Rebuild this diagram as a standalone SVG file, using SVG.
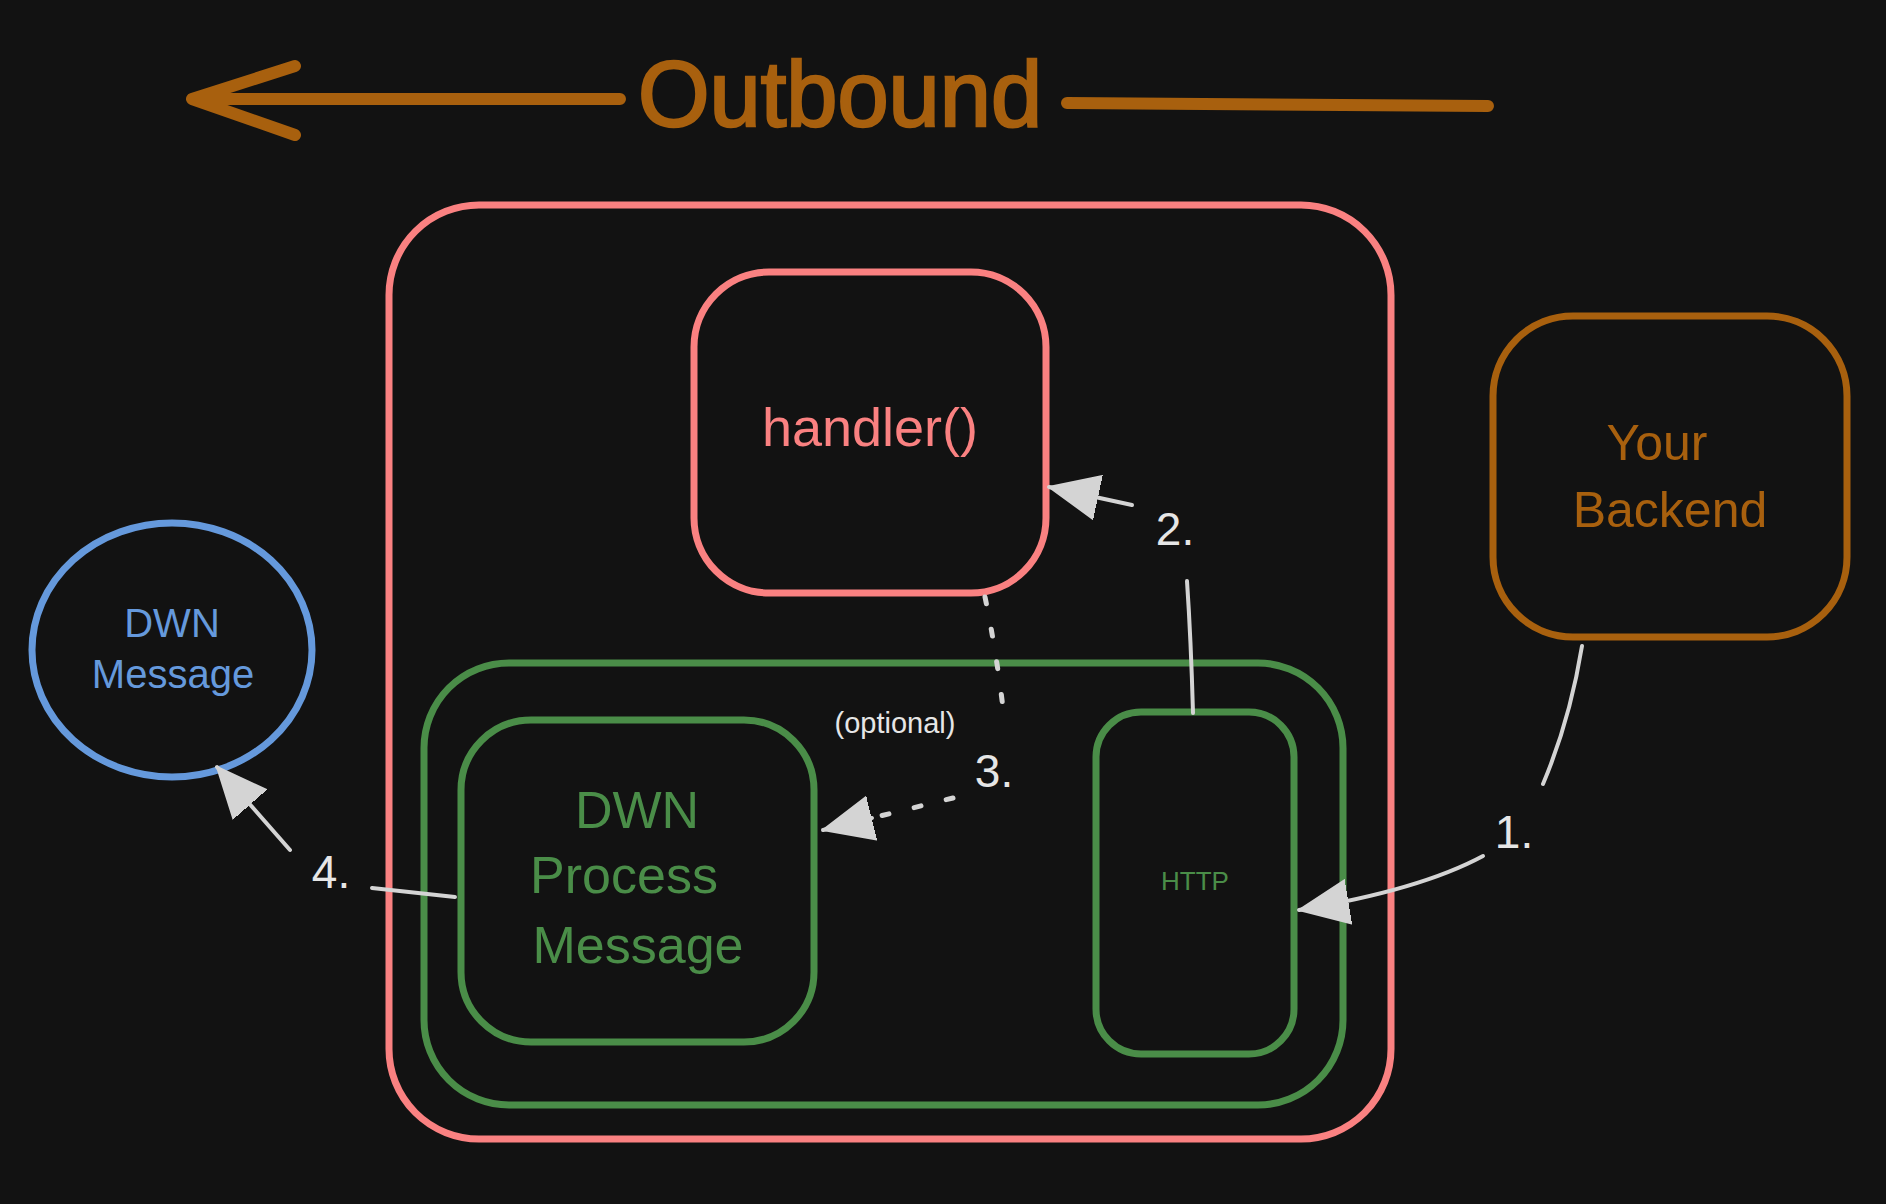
<svg xmlns="http://www.w3.org/2000/svg" width="1886" height="1204" viewBox="0 0 1886 1204">
<style>
text{font-family:"Liberation Sans",Arial,sans-serif;text-anchor:middle}
.box{fill:none;stroke-linejoin:round}
.red{stroke:#fa8181;stroke-width:7}
.green{stroke:#4a8d48;stroke-width:7}
.orange{stroke:#a8600e;stroke-width:7}
.blue{stroke:#6599dc;stroke-width:7}
.conn{fill:none;stroke:#d4d4d4;stroke-width:4;stroke-linecap:round}
.dots{fill:none;stroke:#d4d4d4;stroke-width:5;stroke-linecap:round;stroke-dasharray:7 26}
.lbl{fill:#e6e6e6;font-size:46px}
</style>
<defs>
<marker id="head" markerUnits="userSpaceOnUse" viewBox="0 -25 52 50" refX="50" refY="0" markerWidth="52" markerHeight="50" orient="auto">
<path d="M0,-22 L50,0 L0,22 z" fill="#d4d4d4" stroke="#d4d4d4" stroke-width="2" stroke-linejoin="round"/>
</marker>
</defs>
<rect width="1886" height="1204" fill="#121212"/>

<g id="outbound">
<path d="M620,99 L192,99 M295,66 L192,99 L295,135 M1067,103 L1488,106" fill="none" stroke="#a8600e" stroke-width="12" stroke-linecap="round" stroke-linejoin="round"/>
<text x="840" y="126" font-size="92" fill="#a8600e" stroke="#a8600e" stroke-width="2.5">Outbound</text>
</g>

<g id="server">
<rect class="box red" x="389" y="205" width="1002" height="934" rx="90"/>
</g>

<g id="handler">
<rect class="box red" x="694" y="272" width="352" height="321" rx="75"/>
<text x="870" y="446" font-size="54" fill="#fa8181">handler()</text>
</g>

<g id="dwn-sdk">
<rect class="box green" x="424" y="663" width="919" height="442" rx="85"/>
</g>

<g id="process-message">
<rect class="box green" x="461" y="720" width="353" height="322" rx="70"/>
<text x="637" y="828" font-size="52" fill="#4a8d48">DWN</text>
<text x="624" y="893" font-size="52" fill="#4a8d48">Process</text>
<text x="638" y="963" font-size="52" fill="#4a8d48">Message</text>
</g>

<g id="http">
<rect class="box green" x="1096" y="712" width="198" height="342" rx="45"/>
<text x="1195" y="890" font-size="26" fill="#4a8d48">HTTP</text>
</g>

<g id="backend">
<rect class="box orange" x="1493" y="316" width="354" height="321" rx="80"/>
<text x="1657" y="460" font-size="50" fill="#a8600e">Your</text>
<text x="1670" y="527" font-size="50" fill="#a8600e">Backend</text>
</g>

<g id="dwn-message">
<ellipse class="box blue" cx="172" cy="650" rx="140" ry="127"/>
<text x="172" y="637" font-size="40" fill="#6599dc">DWN</text>
<text x="173" y="688" font-size="40" fill="#6599dc">Message</text>
</g>

<g id="connectors">
<path class="conn" d="M1582,646 Q1570,720 1543,784"/>
<text class="lbl" x="1514" y="848">1.</text>
<path class="conn" d="M1483,856 Q1420,890 1299,910" marker-end="url(#head)"/>

<path class="conn" d="M1193,713 Q1191,640 1187,581"/>
<text class="lbl" x="1175" y="545">2.</text>
<path class="conn" d="M1132,505 L1049,487" marker-end="url(#head)"/>

<path class="dots" d="M985,597 Q996,650 1003,708"/>
<text class="lbl" x="994" y="787">3.</text>
<text x="895" y="733" font-size="29" fill="#e6e6e6">(optional)</text>
<path class="dots" d="M953,798 L876,817"/>
<path class="conn" d="M872,818 L823,830" marker-end="url(#head)"/>

<path class="conn" d="M455,897 L372,888"/>
<text class="lbl" x="331" y="888">4.</text>
<path class="conn" d="M290,850 L217,767" marker-end="url(#head)"/>
</g>
</svg>
